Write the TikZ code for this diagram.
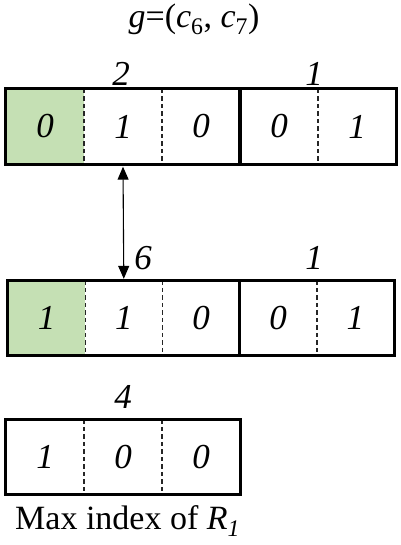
\documentclass[tikz,border=0pt]{standalone}
\usepackage{fontspec}
\setmainfont{Liberation Serif}
\usetikzlibrary{arrows.meta}
\definecolor{cellgreen}{HTML}{C5E0B4}
\begin{document}
\begin{tikzpicture}[x=1pt,y=-1pt,
  cell/.style={minimum width=78pt,minimum height=75pt,inner sep=0pt,font=\fontsize{35}{38}\selectfont\itshape},
  lbl/.style={inner sep=0pt,font=\fontsize{35}{38}\selectfont\itshape},
  sep/.style={line width=1.5pt,dash pattern=on 4.5pt off 3pt,black!85},
  group/.style={line width=3pt}]
\useasboundingbox (0,0) rectangle (400,545);
% title
\node[inner sep=0pt,font=\fontsize{34}{38}\selectfont] (title) at (194,19) {\textit{g}=(\textit{c}\textsubscript{6}, \textit{c}\textsubscript{7})};
% row 1
\node[cell,fill=cellgreen] (a1) at (45,126.5) {0};
\node[cell] (a2) at (123,126.5) {1};
\node[cell] (a3) at (201,126.5) {0};
\node[cell] (a4) at (279,126.5) {0};
\node[cell] (a5) at (357,126.5) {1};
\draw[sep] (a1.north east) -- (a1.south east);
\draw[sep] (a2.north east) -- (a2.south east);
\draw[sep] (a4.north east) -- (a4.south east);
\draw[group] (a1.north west) rectangle (a3.south east);
\draw[group] (a4.north west) rectangle (a5.south east);
\node[lbl] (la) at (121,74) {2};
\node[lbl] (lb) at (314,74) {1};
% row 2
\node[cell,fill=cellgreen,minimum width=77.2pt] (b1) at (46.6,318) {1};
\node[cell,minimum width=77.2pt] (b2) at (123.8,318) {1};
\node[cell,minimum width=77.2pt] (b3) at (201,318) {0};
\node[cell,minimum width=77.2pt] (b4) at (278.2,318) {0};
\node[cell,minimum width=77.2pt] (b5) at (355.4,318) {1};
\draw[sep] (b1.north east) -- (b1.south east);
\draw[sep] (b2.north east) -- (b2.south east);
\draw[sep] (b4.north east) -- (b4.south east);
\draw[group] (b1.north west) rectangle (b3.south east);
\draw[group] (b4.north west) rectangle (b5.south east);
\node[lbl] (lc) at (143,258) {6};
\node[lbl] (ld) at (314,258) {1};
% arrow
\draw[{Triangle[length=13pt,width=11pt]}-{Triangle[length=13pt,width=11pt]},line width=1.1pt] ([yshift=-2.5pt]a2.south) -- ([yshift=1.5pt]b2.north);
% row 3
\node[cell] (c1) at (45,457) {1};
\node[cell] (c2) at (123,457) {0};
\node[cell] (c3) at (201,457) {0};
\draw[sep] (c1.north east) -- (c1.south east);
\draw[sep] (c2.north east) -- (c2.south east);
\draw[group] (c1.north west) rectangle (c3.south east);
\node[lbl] (le) at (123,397) {4};
\node[inner sep=0pt,font=\fontsize{34}{38}\selectfont,anchor=west] (cap) at (15,521) {Max index of \textit{R}\textsubscript{\textit{1}}};
\end{tikzpicture}
\end{document}
